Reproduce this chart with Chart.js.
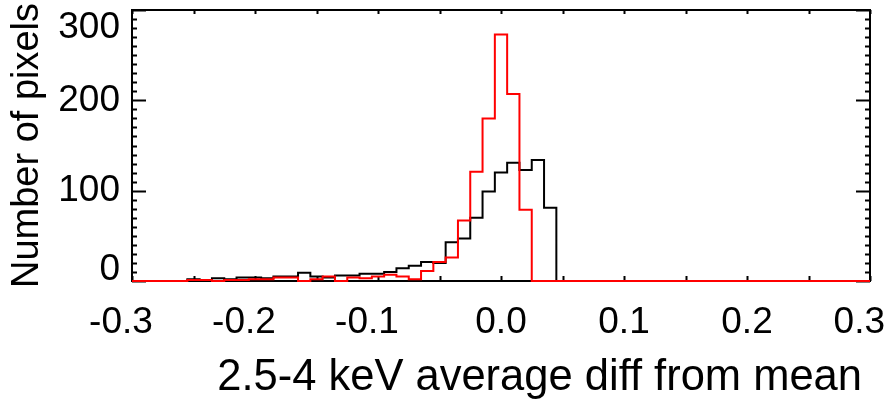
<!DOCTYPE html>
<html>
<head>
<meta charset="utf-8">
<script src="https://cdn.jsdelivr.net/npm/chart.js@4.4.1/dist/chart.umd.min.js"></script>
<style>
  html, body { margin: 0; padding: 0; background: #fff; }
  #wrap { width: 893px; height: 400px; }
</style>
</head>
<body>
<div id="wrap"><canvas id="hist" width="893" height="400"></canvas></div>
<script>
// bin centres (0.01 wide bins)
const binCenters = [
  -0.30, -0.29, -0.28, -0.27, -0.26, -0.25, -0.24, -0.23, -0.22, -0.21,
  -0.20, -0.19, -0.18, -0.17, -0.16, -0.15, -0.14, -0.13, -0.12, -0.11,
  -0.10, -0.09, -0.08, -0.07, -0.06, -0.05, -0.04, -0.03, -0.02, -0.01,
   0.00,  0.01,  0.02,  0.03,  0.04,  0.05,  0.06,  0.07,  0.08,  0.09,
   0.10,  0.11,  0.12,  0.13,  0.14,  0.15,  0.16,  0.17,  0.18,  0.19,
   0.20,  0.21,  0.22,  0.23,  0.24,  0.25,  0.26,  0.27,  0.28,  0.29,
   0.30
];

// black histogram
const blackCounts = [
  0, 0, 0, 0, 0, 2, 1, 3, 2, 4,
  4, 3, 5, 5, 9, 5, 4, 6, 6, 8,
  8, 10, 14, 17, 21, 20, 43, 47, 70, 99,
  120, 131, 123, 134, 81, 0, 0, 0, 0, 0,
  0, 0, 0, 0, 0, 0, 0, 0, 0, 0,
  0, 0, 0, 0, 0, 0, 0, 0, 0, 0,
  0
];

// red histogram
const redCounts = [
  0, 0, 0, 0, 0, 1, 1, 0, 1, 1,
  2, 2, 4, 4, 0, 2, 5, 0, 4, 3,
  5, 7, 5, 2, 11, 21, 26, 67, 121, 180,
  273, 207, 79, 0, 0, 0, 0, 0, 0, 0,
  0, 0, 0, 0, 0, 0, 0, 0, 0, 0,
  0, 0, 0, 0, 0, 0, 0, 0, 0, 0,
  0
];

const xTickStep = 0.1;
const xMinorStep = 0.05;
const yTickStep = 100;
const yMinorStep = 10;

function toPoints(values) {
  return binCenters.map((c, i) => ({ x: c, y: values[i] }));
}

// IDL style frame with inward tick marks
const framePlugin = {
  id: "frame",
  beforeDraw(chart) {
    const area = chart.chartArea;
    // keep the end y labels inside the plot height, like the original
    const ys = chart.scales.y;
    if (ys.getLabelItems) {
      ys.getLabelItems(area).forEach((it) => {
        const t = it.options && it.options.translation;
        if (!t) return;
        if (t[1] < area.top + 18) t[1] = area.top + 18;
        if (t[1] > area.bottom - 11) t[1] = area.bottom - 11;
      });
    }
    // negative labels hang a little to the left, last one stays on the page
    const xs = chart.scales.x;
    if (xs.getLabelItems) {
      const c = chart.ctx;
      xs.getLabelItems(area).forEach((it) => {
        const t = it.options && it.options.translation;
        if (!t) return;
        const txt = String(it.label);
        if (txt.charAt(0) === "-") t[0] -= 11;
        c.save();
        c.font = it.font.string;
        const half = c.measureText(txt).width / 2;
        c.restore();
        if (t[0] + half > chart.width - 8) t[0] = chart.width - 8 - half;
      });
    }
    // x title ends a bit inside the right edge
    xs.right = area.right - 8;
  },
  // frame goes under the histograms so the red baseline shows on the axis
  beforeDatasetsDraw(chart) {
    const ctx = chart.ctx;
    const a = chart.chartArea;
    const xs = chart.scales.x;
    const ys = chart.scales.y;
    xs.right = a.right;
    ctx.save();
    ctx.strokeStyle = "#000";
    ctx.lineWidth = 2;
    ctx.strokeRect(a.left, a.top, a.right - a.left, a.bottom - a.top);

    ctx.beginPath();
    for (let v = ys.min; v <= ys.max + 0.001; v += yMinorStep) {
      const py = Math.round(ys.getPixelForValue(v)) + 0.5;
      const len = (Math.round(v) % yTickStep === 0) ? 14 : 5;
      ctx.moveTo(a.left, py);
      ctx.lineTo(a.left + len, py);
      ctx.moveTo(a.right, py);
      ctx.lineTo(a.right - len, py);
    }
    for (let v = xs.min; v <= xs.max + 1e-6; v += xMinorStep) {
      const px = Math.round(xs.getPixelForValue(v)) + 0.5;
      ctx.moveTo(px, a.bottom);
      ctx.lineTo(px, a.bottom - 5);
      ctx.moveTo(px, a.top);
      ctx.lineTo(px, a.top + 4);
    }
    ctx.stroke();
    ctx.restore();
  }
};

const ctx = document.getElementById("hist").getContext("2d");
new Chart(ctx, {
  type: "line",
  data: {
    datasets: [
      {
        label: "red",
        data: toPoints(redCounts),
        borderColor: "#ff0000",
        borderWidth: 2,
        stepped: "middle",
        pointRadius: 0,
        fill: false,
        clip: false,
      },
      {
        label: "black",
        data: toPoints(blackCounts),
        borderColor: "#000000",
        borderWidth: 2,
        stepped: "middle",
        pointRadius: 0,
        fill: false,
        clip: false,
      },
    ],
  },
  options: {
    responsive: false,
    animation: false,
    events: [],
    layout: { padding: { top: 10, right: 23, left: 0, bottom: 0 } },
    plugins: {
      legend: { display: false },
      tooltip: { enabled: false },
    },
    scales: {
      x: {
        type: "linear",
        min: -0.3,
        max: 0.3,
        grid: { display: false, drawTicks: false },
        border: { display: false },
        ticks: {
          stepSize: xTickStep,
          autoSkip: false,
          maxRotation: 0,
          padding: 20,
          color: "#000",
          font: { family: "'Liberation Sans', Arial, sans-serif", size: 37 },
          callback: (v) => Number(v).toFixed(1),
        },
        title: {
          display: true,
          align: "end",
          text: "2.5-4 keV average diff from mean",
          color: "#000",
          font: { family: "'Liberation Sans', Arial, sans-serif", size: 43.5, lineHeight: 1 },
          padding: { top: 0, bottom: 0 },
        },
        afterFit: (scale) => {
          scale.height = 119;
          scale.paddingLeft = 0;
          scale.paddingRight = 0;
        },
      },
      y: {
        min: 0,
        max: 300,
        grid: { display: false, drawTicks: false },
        border: { display: false },
        ticks: {
          stepSize: yTickStep,
          padding: 12,
          color: "#000",
          font: { family: "'Liberation Sans', Arial, sans-serif", size: 37 },
        },
        title: {
          display: true,
          text: "Number of pixels",
          color: "#000",
          font: { family: "'Liberation Sans', Arial, sans-serif", size: 38, lineHeight: 1.2 },
          padding: { top: 5, bottom: 0 },
        },
        afterFit: (scale) => {
          scale.width = 132;
          scale.paddingTop = 0;
          scale.paddingBottom = 0;
        },
      },
    },
  },
  plugins: [framePlugin],
});
</script>
</body>
</html>
